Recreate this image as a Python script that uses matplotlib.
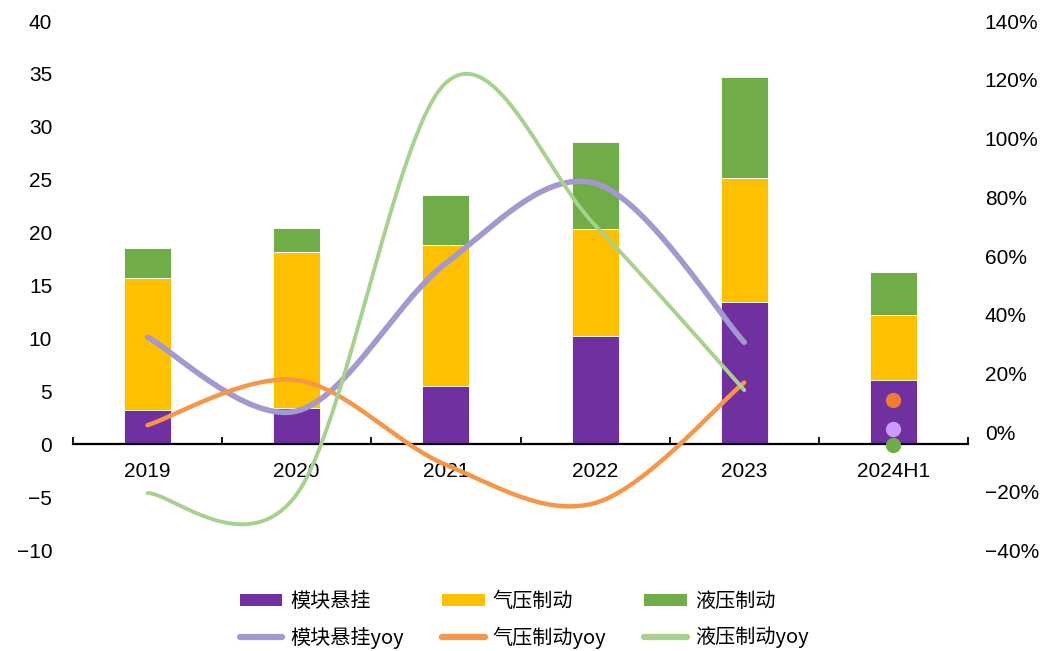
import numpy as np
import matplotlib
matplotlib.use("Agg")
import matplotlib.pyplot as plt
from matplotlib.lines import Line2D
from matplotlib.patches import Patch

plt.rcParams['font.family'] = ['Liberation Sans', 'Noto Sans CJK SC', 'DejaVu Sans']
plt.rcParams['axes.unicode_minus'] = True

categories = ['2019', '2020', '2021', '2022', '2023', '2024H1']

# revenue by segment (stacked bars, left axis)
module_susp = [3.2, 3.4, 5.5, 10.2, 13.4, 6.05]
air_brake = [12.5, 14.8, 13.3, 10.1, 11.8, 6.15]
hyd_brake = [2.8, 2.2, 4.8, 8.3, 9.5, 4.1]

# year-on-year growth, % (right axis); 2024H1 shown as single points
module_yoy = [32.4, 7.3, 57.6, 84.8, 30.7]
air_yoy = [2.5, 17.8, -11.0, -24.0, 17.0]
hyd_yoy = [-20.6, -21.0, 119.0, 70.5, 14.4]
h1_yoy = {'module': 1.2, 'air': 11.0, 'hyd': -4.3}

names = ['模块悬挂', '气压制动', '液压制动']
bar_colors = ['#7030A0', '#FFC000', '#70AD47']
line_colors = ['#A597CF', '#F79646', '#A9D18E']
dot_colors = ['#CC99FF', '#ED7D31', '#70AD47']


def smooth(ys, n=60):
    """Piecewise cubic Bezier through the points (Catmull-Rom tangents)."""
    pts = np.column_stack([np.arange(len(ys), dtype=float), np.asarray(ys, float)])
    out = []
    t = np.linspace(0, 1, n)[:, None]
    for i in range(len(pts) - 1):
        p0 = pts[i - 1] if i > 0 else pts[i]
        p1, p2 = pts[i], pts[i + 1]
        p3 = pts[i + 2] if i + 2 < len(pts) else pts[i + 1]
        c1 = p1 + (p2 - p0) / 6
        c2 = p2 - (p3 - p1) / 6
        seg = ((1 - t) ** 3) * p1 + 3 * ((1 - t) ** 2) * t * c1 \
            + 3 * (1 - t) * t ** 2 * c2 + t ** 3 * p2
        out.append(seg if i == 0 else seg[1:])
    seg = np.vstack(out)
    return seg[:, 0], seg[:, 1]


fig = plt.figure(figsize=(10.41, 6.51), dpi=100)
ax = fig.add_axes([0.0701, 0.1551, 0.8598, 0.8126])
x = np.arange(len(categories))
w = 0.315

bottom = np.zeros(len(categories))
for vals, col in zip([module_susp, air_brake, hyd_brake], bar_colors):
    ax.bar(x, vals, w, bottom=bottom, color=col, edgecolor='#FFFFFF',
           linewidth=0.6, zorder=2)
    bottom += np.asarray(vals)

ax.set_xlim(-0.5, len(categories) - 0.5)
ax.set_ylim(-10, 40)
ax.set_yticks(np.arange(-10, 41, 5))
for s in ['top', 'right', 'left']:
    ax.spines[s].set_visible(False)
ax.spines['bottom'].set_position(('data', 0))
ax.spines['bottom'].set_linewidth(1.6)
ax.spines['bottom'].set_zorder(3)
ax.set_xticks(x)
ax.set_xticklabels(categories)
ax.set_xticks(np.arange(-0.5, len(categories), 1.0), minor=True)
ax.tick_params(axis='x', which='major', length=0, pad=13, labelsize=15,
               colors='#000000')
ax.tick_params(axis='x', which='minor', direction='in', length=5, width=1.3)
ax.tick_params(axis='y', length=0, pad=15, labelsize=15, colors='#000000')

ax2 = ax.twinx()
ax2.set_ylim(-40, 140)
pct_ticks = list(range(-40, 141, 20))
ax2.set_yticks(pct_ticks)
ax2.set_yticklabels([f'{v}%'.replace('-', '\u2212') for v in pct_ticks])
for s in ax2.spines.values():
    s.set_visible(False)
ax2.tick_params(axis='y', length=0, pad=12, labelsize=15, colors='#000000')

lws = [4.0, 3.2, 2.8]
for ys, col, lw in zip([module_yoy, air_yoy, hyd_yoy], line_colors, lws):
    sx, sy = smooth(ys)
    ax2.plot(sx, sy, color=col, lw=lw, solid_capstyle='round', zorder=3)

for key, col in zip(['air', 'module', 'hyd'], [dot_colors[1], dot_colors[0], dot_colors[2]]):
    ax2.plot([len(categories) - 1], [h1_yoy[key]], 'o', ms=11, color=col,
             mec='none', zorder=4)

handles = []
labels = []
for nm, bc, lc in zip(names, bar_colors, line_colors):
    handles.append(Patch(facecolor=bc, edgecolor='none'))
    labels.append(nm)
    handles.append(Line2D([], [], color=lc, lw=4.5, solid_capstyle='round'))
    labels.append(nm + 'yoy')

fig.legend(handles, labels, ncol=3, loc='upper left',
           bbox_to_anchor=(240 / 1041, 1 - 591 / 651), frameon=False,
           prop={'family': ['Noto Sans CJK SC', 'DejaVu Sans'], 'size': 14.5},
           handlelength=2.1, handleheight=0.5, handletextpad=0.4,
           columnspacing=1.9, labelspacing=0.72, borderaxespad=0, borderpad=0)

fig.savefig('out.png', dpi=100)
